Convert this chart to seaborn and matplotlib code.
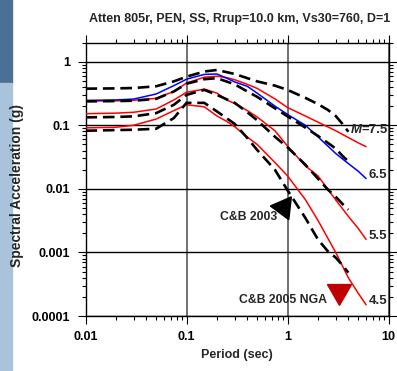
import matplotlib
matplotlib.use("Agg")
import matplotlib.pyplot as plt
from matplotlib.patches import Rectangle
import seaborn as sns

# C&B 2005 NGA spectra (solid lines)
nga_period = [0.01, 0.02, 0.03, 0.05, 0.075, 0.1, 0.15, 0.2, 0.25, 0.3, 0.4, 0.5,
              0.75, 1.0, 1.5, 2.0, 3.0, 4.0, 5.0, 6.0]
nga_m75 = [0.24, 0.242, 0.247, 0.265, 0.34, 0.46, 0.57, 0.59, 0.56, 0.52, 0.44, 0.38,
           0.26, 0.19, 0.14, 0.112, 0.082, 0.064, 0.053, 0.046]
nga_m65 = [0.246, 0.25, 0.258, 0.31, 0.42, 0.53, 0.63, 0.64, 0.55, 0.48, 0.41, 0.32,
           0.20, 0.148, 0.10, 0.066, 0.036, 0.025, 0.019, 0.0145]
nga_m55 = [0.152, 0.155, 0.16, 0.18, 0.25, 0.33, 0.37, 0.32, 0.25, 0.22, 0.17, 0.135,
           0.082, 0.047, 0.023, 0.016, 0.0067, 0.0037, 0.0024, 0.0016]
nga_m45 = [0.091, 0.093, 0.10, 0.125, 0.17, 0.21, 0.195, 0.14, 0.115, 0.095, 0.065, 0.05,
           0.026, 0.016, 0.0068, 0.0032, 0.001, 0.0004, 0.00023, 0.00015]
nga_colors = ["#ff0000", "#0000ff", "#ff0000", "#ff0000"]
mag_labels = ["7.5", "6.5", "5.5", "4.5"]

# C&B 2003 spectra (dashed lines)
cb03_period = [0.01, 0.02, 0.03, 0.05, 0.075, 0.1, 0.15, 0.2, 0.3, 0.4, 0.5, 0.75,
               1.0, 1.5, 2.0, 2.5, 3.0, 3.5, 4.0]
cb03_m75 = [0.376, 0.38, 0.385, 0.41, 0.49, 0.58, 0.70, 0.74, 0.64, 0.55, 0.49, 0.42,
            0.36, 0.27, 0.215, 0.175, 0.14, 0.105, 0.079]
cb03_m65 = [0.237, 0.24, 0.243, 0.26, 0.34, 0.45, 0.53, 0.55, 0.44, 0.34, 0.28, 0.185,
            0.138, 0.092, 0.068, 0.053, 0.043, 0.033, 0.027]
cb03_m55 = [0.133, 0.135, 0.138, 0.155, 0.21, 0.30, 0.36, 0.30, 0.225, 0.16, 0.12, 0.066,
            0.045, 0.024, 0.0145, 0.0098, 0.0075, 0.0058, 0.0047]
cb03_m45 = [0.082, 0.084, 0.085, 0.088, 0.13, 0.225, 0.225, 0.165, 0.105, 0.063, 0.041, 0.02,
            0.0095, 0.0035, 0.0016, 0.00105, 0.00083, 0.00063, 0.00048]

x_ticks = [0.01, 0.1, 1, 10]
x_ticklabels = ["0.01", "0.1", "1", "10"]
y_ticks = [0.0001, 0.001, 0.01, 0.1, 1]
y_ticklabels = ["0.0001", "0.001", "0.01", "0.1", "1"]

sns.set_style("ticks")
plt.rcParams['font.family'] = ['Liberation Sans', 'DejaVu Sans']
plt.rcParams['font.weight'] = 'bold'

fig = plt.figure(figsize=(3.97, 3.71), dpi=100)
# slide background strip on the left
fig.patches.append(Rectangle((0, 0.776), 0.030, 0.224, transform=fig.transFigure,
                             color='#4a7096', zorder=0))
fig.patches.append(Rectangle((0, 0), 0.030, 0.776, transform=fig.transFigure,
                             color='#a8c3da', zorder=0))

ax = fig.add_axes([0.2154, 0.1482, 0.7632, 0.7372])

for vals, color in zip([nga_m75, nga_m65, nga_m55, nga_m45], nga_colors):
    sns.lineplot(x=nga_period, y=vals, color=color, lw=1.1, ax=ax, zorder=3)
for vals in [cb03_m75, cb03_m65, cb03_m55, cb03_m45]:
    sns.lineplot(x=cb03_period, y=vals, color='black', lw=1.9,
                 linestyle=(0, (4.4, 2.2)), ax=ax, zorder=4)

ax.set_xscale('log')
ax.set_yscale('log')
ax.set_xlim(0.01, 10)
ax.set_ylim(0.0001, 2.0)
ax.set_xticks(x_ticks, x_ticklabels)
ax.set_yticks(y_ticks, y_ticklabels)

ax.yaxis.grid(True, which='major', color='black', lw=1.0)
ax.xaxis.grid(True, which='major', color='#707070', lw=1.4)
ax.tick_params(which='both', direction='out', top=True, right=True, width=0.8, colors='black')
ax.tick_params(which='major', length=6, labelsize=9, pad=5)
ax.tick_params(which='minor', length=3)
for s in ax.spines.values():
    s.set_linewidth(1.0)
    s.set_color('black')

ax.set_xlabel('Period (sec)', fontsize=9, fontweight='bold', labelpad=4)
fig.text(0.043, 0.499, 'Spectral Acceleration (g)', rotation=90, ha='center', va='center',
         fontsize=10, fontweight='bold')
fig.text(89 / 397, 1 - 19 / 371, 'Atten 805r, PEN, SS, Rrup=10.0 km, Vs30=760, D=1',
         ha='left', va='center', fontsize=9, fontweight='bold')

# magnitude labels at the ends of the NGA curves
ends = [nga_m75[-1], nga_m65[-1], nga_m55[-1], nga_m45[-1]]
ax.annotate('M', xy=(nga_period[-1], ends[0]), xytext=(-3, 12), textcoords='offset points',
            ha='right', va='center', fontsize=9.5, fontweight='bold', fontstyle='italic')
ax.annotate('=7.5', xy=(nga_period[-1], ends[0]), xytext=(-3, 12), textcoords='offset points',
            ha='left', va='center', fontsize=9.5, fontweight='bold')
for lab, yv in zip(mag_labels[1:], ends[1:]):
    ax.annotate(lab, xy=(nga_period[-1], yv), xytext=(2, 2.5), textcoords='offset points',
                ha='left', va='center', fontsize=9.5, fontweight='bold')

# pointers
ax.plot([0.898], [0.00515], marker=(3, 0, -36.5), ms=19, color='black', zorder=5)
ax.text(0.79, 0.00366, 'C&B 2003', ha='right', va='center', fontsize=8.8, fontweight='bold')
ax.plot([3.21], [0.000251], marker=(3, 0, 180), ms=20, color='#c00000', zorder=5)
ax.text(2.47, 0.000179, 'C&B 2005 NGA', ha='right', va='center', fontsize=8.8, fontweight='bold')

fig.savefig('out.png', dpi=100)
